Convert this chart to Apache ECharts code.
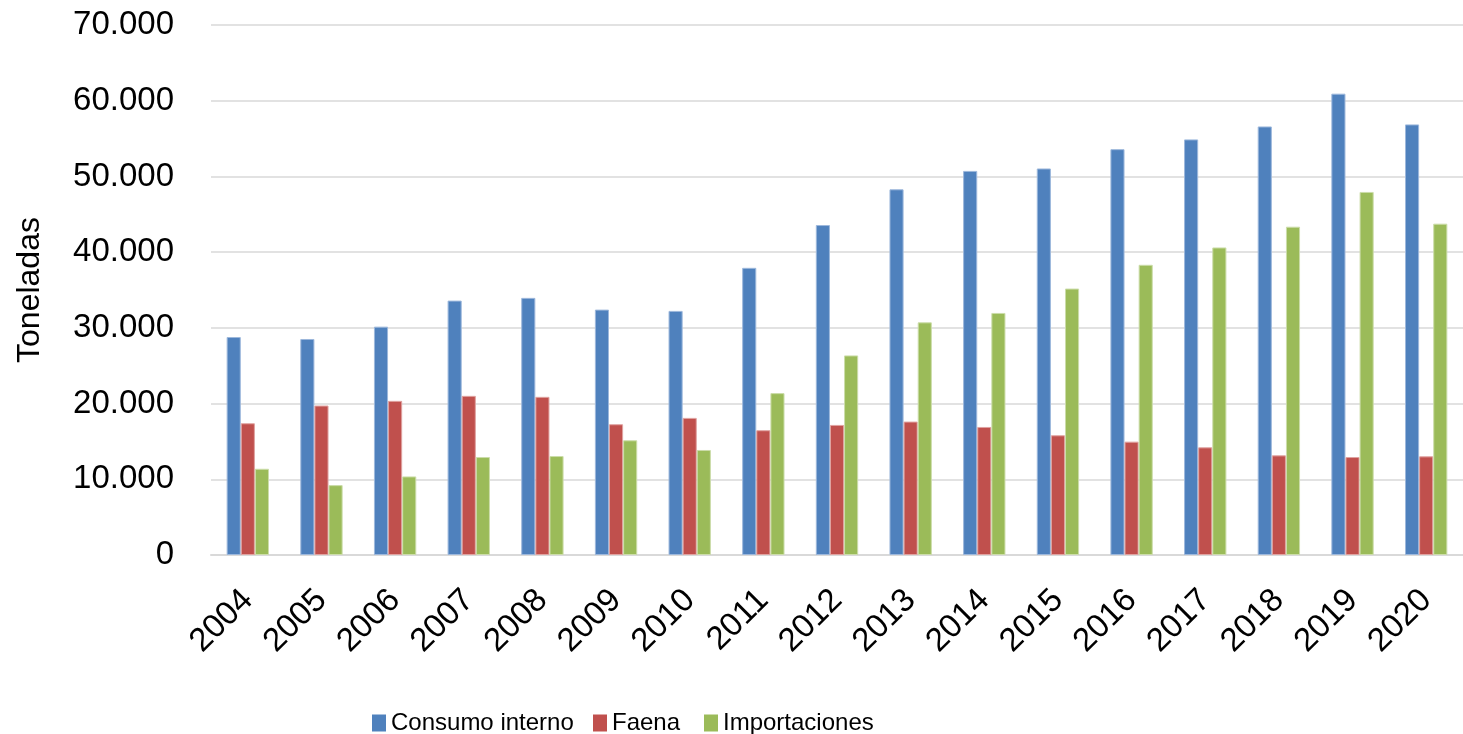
<!DOCTYPE html>
<html>
<head>
<meta charset="utf-8">
<script src="https://cdn.jsdelivr.net/npm/echarts@6/dist/echarts.min.js"></script>
<style>
  html, body { margin: 0; padding: 0; background: #fff; }
  #chart { width: 1463px; height: 734px; }
</style>
</head>
<body>
<div id="chart"></div>
<script>
// años
var years = ['2004', '2005', '2006', '2007', '2008', '2009', '2010', '2011', '2012',
  '2013', '2014', '2015', '2016', '2017', '2018', '2019', '2020']

// toneladas
var consumoInterno = [28790, 28530, 30160, 33600, 33960, 32410, 32240, 37930, 43580,
  48300, 50730, 51050, 53600, 54890, 56600, 60930, 56870]
var faena = [17400, 19740, 20360, 21020, 20890, 17270, 18110, 16480, 17180,
  17620, 16910, 15810, 14970, 14220, 13160, 12940, 13030]
var importaciones = [11390, 9230, 10380, 12940, 13070, 15150, 13870, 21380, 26360,
  30730, 31970, 35190, 38330, 40620, 43360, 47950, 43760]

var yTicks = [0, 10000, 20000, 30000, 40000, 50000, 60000, 70000]

var font = 'Liberation Sans'

var chart = echarts.init(document.getElementById('chart'))

function fmt(v) {
  // separador de miles con punto
  return String(v).replace(/\B(?=(\d{3})+(?!\d))/g, '.')
}

function barSerie(name, data, color, edge) {
  return {
    name: name,
    type: 'bar',
    data: data,
    barGap: '0%',
    barCategoryGap: '42.5%',
    itemStyle: { color: color, borderColor: edge, borderWidth: 1 }
  }
}

// una leyenda por serie para fijar la posicion de cada cuadrito
function leyenda(name, left) {
  return {
    left: left,
    top: 706,
    itemWidth: 14,
    itemHeight: 17,
    itemGap: 0,
    icon: 'rect',
    itemStyle: { borderWidth: 0 },
    textStyle: { fontFamily: font, fontSize: 24, color: '#000', padding: [0, 0, 0, 0] },
    data: [name]
  }
}

var option = {
  animation: false,
  textStyle: { fontFamily: font },
  grid: { left: 211, top: 25, width: 1260, bottom: 179 },
  legend: [
    leyenda('Consumo interno', 367),
    leyenda('Faena', 588),
    leyenda('Importaciones', 699)
  ],
  xAxis: {
    type: 'category',
    data: years,
    axisLine: { lineStyle: { color: '#D9D9D9', width: 2 } },
    axisTick: { show: false },
    axisLabel: {
      rotate: 45,
      margin: 40,
      fontSize: 33,
      color: '#000',
      fontFamily: font
    }
  },
  yAxis: {
    type: 'value',
    min: 0,
    max: 70000,
    interval: 10000,
    name: 'Toneladas',
    nameLocation: 'middle',
    nameGap: 165,
    nameTextStyle: { fontSize: 32, color: '#000', fontFamily: font },
    axisLine: { show: false },
    axisTick: { show: false },
    splitLine: { lineStyle: { color: '#D9D9D9', width: 1.5 } },
    axisLabel: {
      margin: 37,
      fontSize: 33,
      color: '#000',
      fontFamily: font,
      formatter: function (v) {
        return yTicks.indexOf(v) >= 0 ? fmt(v) : ''
      }
    }
  },
  series: [
    barSerie('Consumo interno', consumoInterno, '#4F81BD', '#9DB8DC'),
    barSerie('Faena', faena, '#C0504D', '#E0A3A1'),
    barSerie('Importaciones', importaciones, '#9BBB59', '#CCDDAA')
  ]
}

chart.setOption(option)
</script>
</body>
</html>
